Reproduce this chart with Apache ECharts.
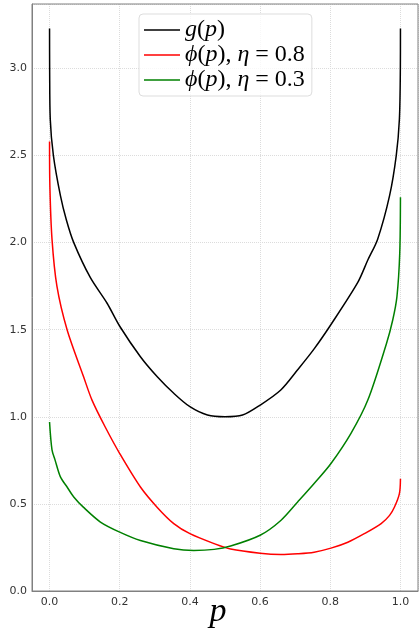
<!DOCTYPE html>
<html>
<head>
<meta charset="utf-8">
<script src="https://cdn.jsdelivr.net/npm/echarts@6/dist/echarts.min.js"></script>
<style>
  html, body { margin: 0; padding: 0; background: #fff; }
  #chart { width: 419px; height: 628px; }
</style>
</head>
<body>
<div id="chart"></div>
<script>
// values
const gP = [0, 0.0003, 0.002, 0.011, 0.031, 0.048, 0.069, 0.116, 0.164, 0.2, 0.259, 0.307, 0.354, 0.4, 0.45, 0.5, 0.55, 0.6, 0.659, 0.707, 0.754, 0.802, 0.878, 0.907, 0.935, 0.969, 0.988, 0.997, 0.9997, 1];
const gV = [3.23, 3.0, 2.71, 2.5, 2.27, 2.13, 2.0, 1.8, 1.652, 1.52, 1.345, 1.23, 1.135, 1.058, 1.01, 1.0, 1.01, 1.067, 1.154, 1.27, 1.39, 1.53, 1.77, 1.9, 2.02, 2.27, 2.5, 2.71, 3.0, 3.23];

const redP = [0, 0.001, 0.007, 0.021, 0.05, 0.097, 0.121, 0.159, 0.2, 0.259, 0.307, 0.354, 0.4, 0.469, 0.516, 0.6, 0.659, 0.707, 0.754, 0.802, 0.85, 0.897, 0.945, 0.969, 0.983, 0.997, 1];
const redV = [2.58, 2.32, 2.02, 1.75, 1.5, 1.23, 1.096, 0.94, 0.789, 0.597, 0.48, 0.387, 0.329, 0.272, 0.241, 0.217, 0.21, 0.214, 0.223, 0.246, 0.28, 0.329, 0.387, 0.434, 0.482, 0.559, 0.645];

const greenP = [0, 0.007, 0.016, 0.031, 0.05, 0.069, 0.097, 0.145, 0.2, 0.259, 0.354, 0.411, 0.469, 0.516, 0.6, 0.659, 0.707, 0.754, 0.802, 0.859, 0.907, 0.96, 0.978, 0.99, 0.998, 1];
const greenV = [0.97, 0.81, 0.75, 0.655, 0.597, 0.54, 0.48, 0.396, 0.338, 0.29, 0.243, 0.233, 0.239, 0.258, 0.32, 0.405, 0.511, 0.617, 0.732, 0.905, 1.096, 1.42, 1.556, 1.69, 1.94, 2.26];

const names = ['g(p)', 'ϕ(p), η = 0.8', 'ϕ(p), η = 0.3'];
const colors = ['#000000', '#ff0000', '#008000'];
const xTicks = [0, 0.2, 0.4, 0.6, 0.8, 1.0];

// legend labels written like the math text of the original
const legendRich = {
  'g(p)': '{i|g}{n|(}{i|p}{n|)}',
  'ϕ(p), η = 0.8': '{i|ϕ}{n|(}{i|p}{n|), }{i|η}{n| = 0.8}',
  'ϕ(p), η = 0.3': '{i|ϕ}{n|(}{i|p}{n|), }{i|η}{n| = 0.3}'
};

const zip = (xs, ys) => xs.map((x, i) => [x, ys[i]]);

const chart = echarts.init(document.getElementById('chart'));

chart.setOption({
  backgroundColor: '#fff',
  animation: false,
  grid: { left: 32, right: 1, top: 4, bottom: 37, outerBoundsMode: 'none', containLabel: false },
  legend: {
    left: 139,
    top: 14,
    icon: 'rect',
    itemWidth: 36,
    itemHeight: 1.5,
    itemGap: 1,
    orient: 'vertical',
    backgroundColor: 'rgba(255,255,255,0.8)',
    borderColor: '#dddddd',
    borderWidth: 1,
    borderRadius: 4,
    padding: [4, 7, 4, 5],
    formatter: name => legendRich[name],
    textStyle: {
      rich: {
        i: { fontFamily: 'Liberation Serif', fontStyle: 'italic', fontSize: 24, color: '#000', lineHeight: 26 },
        n: { fontFamily: 'Liberation Serif', fontSize: 24, color: '#000', lineHeight: 26 }
      }
    },
    data: names
  },
  xAxis: {
    type: 'value',
    min: -0.05,
    max: 1.05,
    name: 'p',
    nameLocation: 'middle',
    nameGap: 4,
    nameMoveOverlap: false,
    nameTextStyle: { fontFamily: 'Liberation Serif', fontStyle: 'italic', fontSize: 34, color: '#000', verticalAlign: 'top', padding: [0, 14, 0, 0] },
    axisLine: { show: true, onZero: false, lineStyle: { color: '#808080', width: 1 } },
    axisTick: { show: false },
    axisLabel: {
      margin: 6,
      fontFamily: 'DejaVu Sans',
      fontSize: 11,
      color: '#333',
      showMinLabel: false,
      showMaxLabel: false,
      formatter: v => xTicks.some(t => Math.abs(t - v) < 1e-6) ? v.toFixed(1) : ''
    },
    splitLine: { show: true, lineStyle: { color: '#dcdcdc', type: 'dotted', width: 1 } }
  },
  yAxis: {
    type: 'value',
    min: 0,
    max: 3.37,
    interval: 0.5,
    axisLine: { show: true, onZero: false, lineStyle: { color: '#808080', width: 1 } },
    axisTick: { show: false },
    axisLabel: {
      margin: 5,
      fontFamily: 'DejaVu Sans',
      fontSize: 11,
      color: '#333',
      showMaxLabel: false,
      formatter: v => v.toFixed(1)
    },
    splitLine: { show: true, lineStyle: { color: '#dcdcdc', type: 'dotted', width: 1 } }
  },
  graphic: [{
    type: 'rect',
    shape: { x: 32, y: 4, width: 386, height: 587 },
    style: { fill: 'none', stroke: '#808080', lineWidth: 1 },
    silent: true,
    z: 10
  }],
  series: [
    { name: names[0], data: zip(gP, gV) },
    { name: names[1], data: zip(redP, redV) },
    { name: names[2], data: zip(greenP, greenV) }
  ].map((s, i) => ({
    ...s,
    type: 'line',
    showSymbol: false,
    symbol: 'none',
    smooth: 0.3,
    color: colors[i],
    lineStyle: { color: colors[i], width: 1.5 }
  }))
});
</script>
</body>
</html>
